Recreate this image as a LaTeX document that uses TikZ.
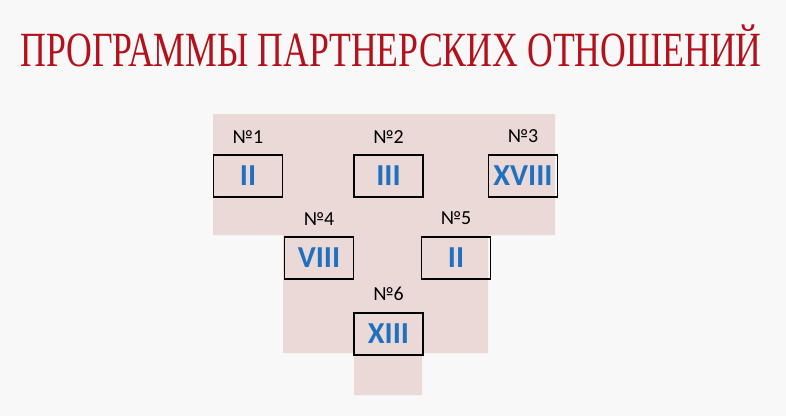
\documentclass[tikz,border=0pt]{standalone}
\usepackage{fontspec}
\setmainfont{Carlito}
\newfontfamily\titlefont{Liberation Serif}
\usetikzlibrary{positioning}
\definecolor{titlered}{HTML}{B3121C}
\definecolor{numblue}{HTML}{2070C0}
\definecolor{panelpink}{HTML}{EBD9D7}
\definecolor{pagegray}{HTML}{F8F8F8}

\begin{document}
\begin{tikzpicture}[
  x=0.03cm, y=-0.03cm,
  prog/.style={draw, line width=1.3pt, minimum width=2.07cm, minimum height=1.26cm,
    inner sep=0pt, font=\fontsize{26}{26}\selectfont\bfseries, text=numblue},
  num/.style={above=0.33cm, inner sep=0pt, font=\fontsize{17}{17}\selectfont},
]
  \fill[pagegray] (0,0) rectangle (786,416);
  \useasboundingbox (0,0) rectangle (786,416);

  \node[text=titlered, inner sep=0pt] (title) at (391,46)
    {\scalebox{0.726}[1]{\titlefont\fontsize{42}{42}\selectfont ПРОГРАММЫ ПАРТНЕРСКИХ ОТНОШЕНИЙ}};

  \fill[panelpink] (213,114) -- (555,114) -- (555,235) -- (488,235) -- (488,353)
    -- (422,353) -- (422,395) -- (354,395) -- (354,353) -- (283,353) -- (283,235)
    -- (213,235) -- cycle;

  \node[prog] (p1) at (248,176) {II};
  \node[prog] (p2) at (388.5,176) {III};
  \node[prog] (p3) at (523,176) {XVIII};
  \node[prog] (p4) at (319,258) {VIII};
  \node[prog] (p5) at (456,258) {II};
  \node[prog] (p6) at (388.5,334) {XIII};

  \node[num] (n1) at (p1.north) {№1};
  \node[num] (n2) at (p2.north) {№2};
  \node[num] (n3) at (p3.north) {№3};
  \node[num] (n4) at (p4.north) {№4};
  \node[num] (n5) at (p5.north) {№5};
  \node[num] (n6) at (p6.north) {№6};
\end{tikzpicture}
\end{document}
